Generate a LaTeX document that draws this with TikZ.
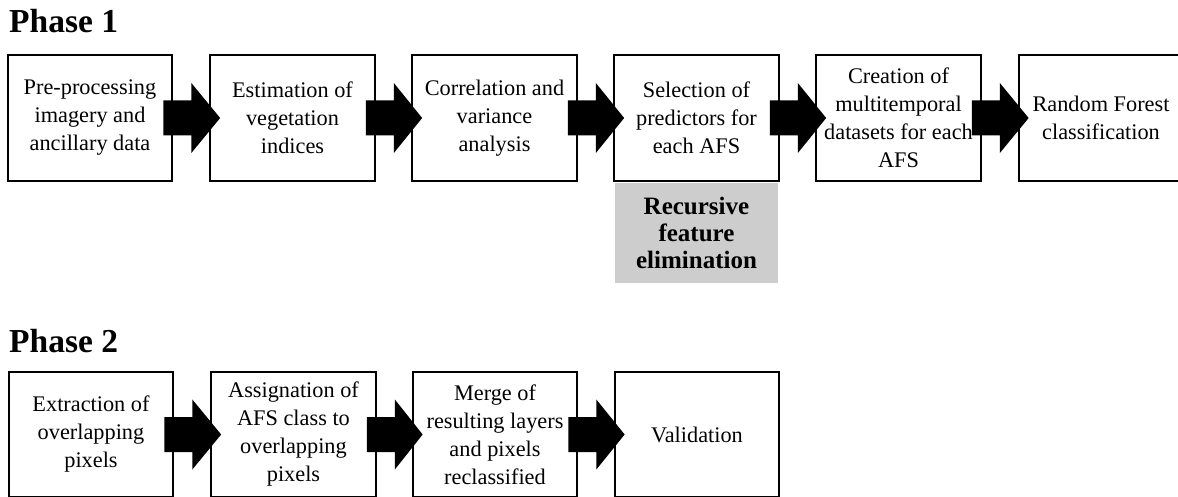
\documentclass[tikz,border=0pt]{standalone}
\usepackage{fontspec}
\setmainfont{Liberation Serif}
\usetikzlibrary{calc}
\definecolor{rfegray}{RGB}{205,205,205}
\tikzset{
  stepbox/.style={draw=black, line width=2.2pt, fill=white, minimum width=164.5pt, minimum height=125.5pt,
    inner sep=0pt, align=center, font=\fontsize{22.3}{28}\selectfont},
  graybox/.style={fill=rfegray, draw=none, minimum width=163pt, minimum height=100pt, inner sep=0pt,
    align=center, font=\bfseries\fontsize{25}{27}\selectfont},
  phasetitle/.style={anchor=base west, inner sep=0pt, font=\bfseries\fontsize{33.5}{36}\selectfont},
}
\newcommand\blockarrow[2]{%
  \fill[black] ($(#1.east)+(-10,17.5)$) -- ($(#1.east)+(18,17.5)$) -- ($(#1.east)+(18,35)$)
    -- ($(#2.west)+(11,0)$) -- ($(#1.east)+(18,-35)$) -- ($(#1.east)+(18,-17.5)$)
    -- ($(#1.east)+(-10,-17.5)$) -- cycle;}
\begin{document}
\begin{tikzpicture}[x=1pt,y=1pt]
\useasboundingbox (0,0) rectangle (1178,-497);
\clip (0,0) rectangle (1178,-497);
\fill[white] (0,0) rectangle (1178,-497);
% Phase 1
\node[phasetitle] (t1) at (9,-33) {Phase 1};
\node[stepbox] (p1) at (90,-118) {Pre-processing\\imagery and\\ancillary data};
\node[stepbox] (p2) at (292.5,-118) {Estimation of\\vegetation\\indices};
\node[stepbox] (p3) at (494.5,-118) {Correlation and\\variance\\analysis};
\node[stepbox] (p4) at (696.5,-118) {Selection of\\predictors for\\each AFS};
\node[stepbox] (p5) at (898.5,-118) {Creation of\\multitemporal\\datasets for each\\AFS};
\node[stepbox] (p6) at (1101,-118) {Random Forest\\classification};
\node[graybox, anchor=north] (rfe) at ([yshift=-1.1pt]p4.south) {Recursive\\feature\\elimination};
\blockarrow{p1}{p2}
\blockarrow{p2}{p3}
\blockarrow{p3}{p4}
\blockarrow{p4}{p5}
\blockarrow{p5}{p6}
% Phase 2
\node[phasetitle] (t2) at (9,-352) {Phase 2};
\node[stepbox] (q1) at (91,-434.5) {Extraction of\\overlapping\\pixels};
\node[stepbox] (q2) at (293.5,-434.5) {Assignation of\\AFS class to\\overlapping\\pixels};
\node[stepbox] (q3) at (495,-434.5) {Merge of\\resulting layers\\and pixels\\reclassified};
\node[stepbox] (q4) at (697,-434.5) {Validation};
\blockarrow{q1}{q2}
\blockarrow{q2}{q3}
\blockarrow{q3}{q4}
\end{tikzpicture}
\end{document}
